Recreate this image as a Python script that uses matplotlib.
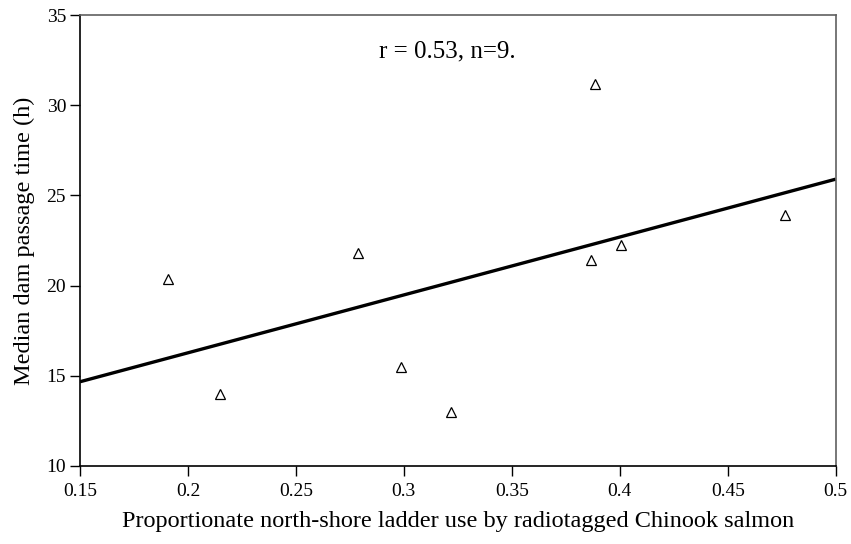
import matplotlib
matplotlib.use('Agg')
from matplotlib import pyplot as plt

# data
ladder_use = [0.1907, 0.215, 0.2787, 0.2988, 0.3219, 0.3867, 0.3886, 0.4005, 0.4766]
passage_time = [20.37, 13.97, 21.79, 15.5, 12.98, 21.42, 31.16, 22.23, 23.9]

fit_x = [0.15, 0.5]
fit_y = [14.67, 25.9]

x_ticks = [0.15, 0.2, 0.25, 0.3, 0.35, 0.4, 0.45, 0.5]
x_labels = ['0.15', '0.2', '0.25', '0.3', '0.35', '0.4', '0.45', '0.5']
y_ticks = [10, 15, 20, 25, 30, 35]

plt.rcParams['font.family'] = ['Liberation Serif', 'DejaVu Serif']

fig = plt.figure(figsize=(8.51, 5.44), dpi=100)
ax = fig.add_axes([0.094, 0.1434, 0.888, 0.829])

ax.plot(fit_x, fit_y, color='black', linewidth=2.4, solid_capstyle='butt')
ax.plot(ladder_use, passage_time, linestyle='none', marker='^', markersize=7.5,
        markerfacecolor='white', markeredgecolor='black', markeredgewidth=0.9)

ax.text(0.32, 33.0, 'r = 0.53, n=9.', fontsize=18, ha='center', va='center')

ax.set_xlim(0.15, 0.5)
ax.set_ylim(10, 35)
ax.set_xticks(x_ticks)
ax.set_xticklabels(x_labels)
ax.set_yticks(y_ticks)
ax.tick_params(axis='both', labelsize=14, length=7, width=1, direction='out')
ax.tick_params(axis='x', pad=5)
ax.tick_params(axis='y', pad=3)

for side in ['left', 'bottom']:
    ax.spines[side].set_color('black')
    ax.spines[side].set_linewidth(1.2)
for side in ['top', 'right']:
    ax.spines[side].set_color('#606060')
    ax.spines[side].set_linewidth(1.2)

ax.set_xlabel('Proportionate north-shore ladder use by radiotagged Chinook salmon',
              fontsize=17.5, labelpad=8)
ax.set_ylabel('Median dam passage time (h)', fontsize=17.5, labelpad=8)

fig.savefig('out.png', dpi=100)
